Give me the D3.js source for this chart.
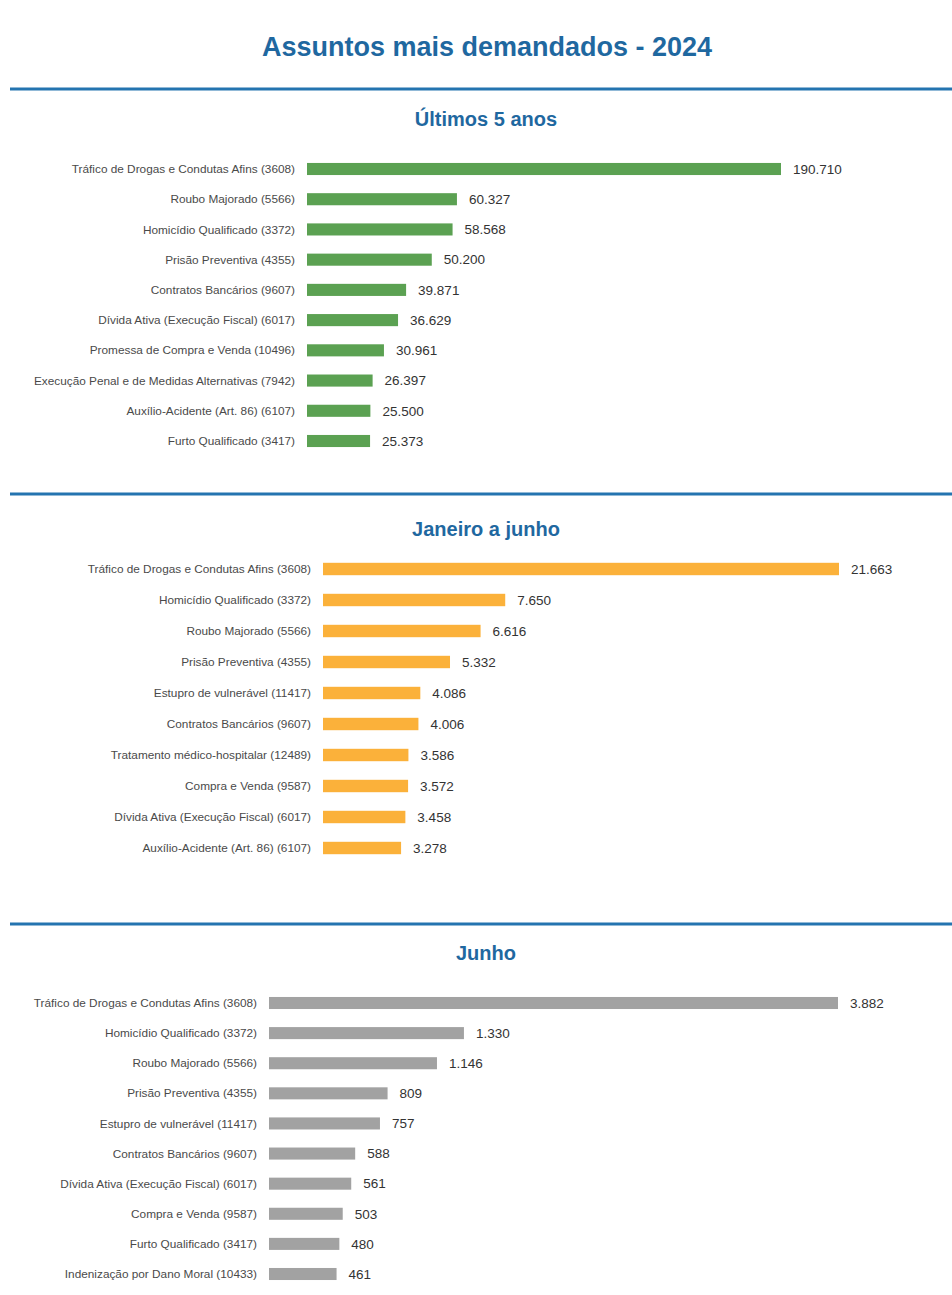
<!DOCTYPE html>
<html lang="pt-BR">
<head>
<meta charset="utf-8">
<title>Assuntos mais demandados - 2024</title>
<script src="https://cdn.jsdelivr.net/npm/d3@7"></script>
<style>
  body { margin: 0; background: #fff; }
  svg { display: block; font-family: "Liberation Sans", Arial, sans-serif; }
  .title { font-weight: bold; fill: #1f68a0; }
  .label { font-size: 11.8px; fill: #4a4a4a; }
  .value { font-size: 13.5px; fill: #333; }
</style>
</head>
<body>
<script>
// Últimos 5 anos
var labels5 = ["Tráfico de Drogas e Condutas Afins (3608)", "Roubo Majorado (5566)", "Homicídio Qualificado (3372)",
  "Prisão Preventiva (4355)", "Contratos Bancários (9607)", "Dívida Ativa (Execução Fiscal) (6017)",
  "Promessa de Compra e Venda (10496)", "Execução Penal e de Medidas Alternativas (7942)",
  "Auxílio-Acidente (Art. 86) (6107)", "Furto Qualificado (3417)"];
var values5 = [190710, 60327, 58568, 50200, 39871, 36629, 30961, 26397, 25500, 25373];

// Janeiro a junho
var labelsJan = ["Tráfico de Drogas e Condutas Afins (3608)", "Homicídio Qualificado (3372)", "Roubo Majorado (5566)",
  "Prisão Preventiva (4355)", "Estupro de vulnerável (11417)", "Contratos Bancários (9607)",
  "Tratamento médico-hospitalar (12489)", "Compra e Venda (9587)", "Dívida Ativa (Execução Fiscal) (6017)",
  "Auxílio-Acidente (Art. 86) (6107)"];
var valuesJan = [21663, 7650, 6616, 5332, 4086, 4006, 3586, 3572, 3458, 3278];

// Junho
var labelsJun = ["Tráfico de Drogas e Condutas Afins (3608)", "Homicídio Qualificado (3372)", "Roubo Majorado (5566)",
  "Prisão Preventiva (4355)", "Estupro de vulnerável (11417)", "Contratos Bancários (9607)",
  "Dívida Ativa (Execução Fiscal) (6017)", "Compra e Venda (9587)", "Furto Qualificado (3417)",
  "Indenização por Dano Moral (10433)"];
var valuesJun = [3882, 1330, 1146, 809, 757, 588, 561, 503, 480, 461];

var width = 952, height = 1295;
var br = d3.formatLocale({ decimal: ",", thousands: ".", grouping: [3], currency: ["R$", ""] });
var fmt = br.format(",d");

var svg = d3.select("body").append("svg")
  .attr("width", width)
  .attr("height", height);

svg.append("text")
  .attr("class", "title")
  .attr("x", 487).attr("y", 56)
  .attr("text-anchor", "middle")
  .style("font-size", "27px")
  .text("Assuntos mais demandados - 2024");

// one block per period
var sections = [
  { title: "Últimos 5 anos", labels: labels5, values: values5, color: "#5ba152",
    line: 89, titleY: 126, x0: 307, x1: 781, top: 169, bottom: 441 },
  { title: "Janeiro a junho", labels: labelsJan, values: valuesJan, color: "#fbb13a",
    line: 494, titleY: 536, x0: 323, x1: 839, top: 569, bottom: 848 },
  { title: "Junho", labels: labelsJun, values: valuesJun, color: "#a2a2a2",
    line: 924, titleY: 960, x0: 269, x1: 838, top: 1003, bottom: 1274 }
];

sections.forEach(function(s) {
  svg.append("line")
    .attr("x1", 10).attr("x2", width)
    .attr("y1", s.line).attr("y2", s.line)
    .attr("stroke", "#2474b0")
    .attr("stroke-width", 3);

  svg.append("text")
    .attr("class", "title")
    .attr("x", 486).attr("y", s.titleY)
    .attr("text-anchor", "middle")
    .style("font-size", "20px")
    .text(s.title);

  var step = (s.bottom - s.top) / (s.labels.length - 1);
  var y = d3.scaleBand()
    .domain(s.labels)
    .range([s.top - step / 2, s.bottom + step / 2])
    .paddingInner(0.6)
    .paddingOuter(0.3);

  var x = d3.scaleLinear()
    .domain([0, d3.max(s.values)])
    .range([s.x0, s.x1]);

  var rows = svg.append("g").selectAll("g")
    .data(s.labels.map(function(l, i) { return { label: l, value: s.values[i] }; }))
    .enter().append("g");

  rows.append("rect")
    .attr("x", x(0))
    .attr("y", function(d) { return y(d.label); })
    .attr("width", function(d) { return x(d.value) - x(0); })
    .attr("height", y.bandwidth())
    .attr("fill", s.color);

  rows.append("text")
    .attr("class", "label")
    .attr("x", x(0) - 12)
    .attr("y", function(d) { return y(d.label) + y.bandwidth() / 2; })
    .attr("dy", "0.35em")
    .attr("text-anchor", "end")
    .text(function(d) { return d.label; });

  rows.append("text")
    .attr("class", "value")
    .attr("x", function(d) { return x(d.value) + 12; })
    .attr("y", function(d) { return y(d.label) + y.bandwidth() / 2; })
    .attr("dy", "0.35em")
    .text(function(d) { return fmt(d.value); });
});
</script>
</body>
</html>
